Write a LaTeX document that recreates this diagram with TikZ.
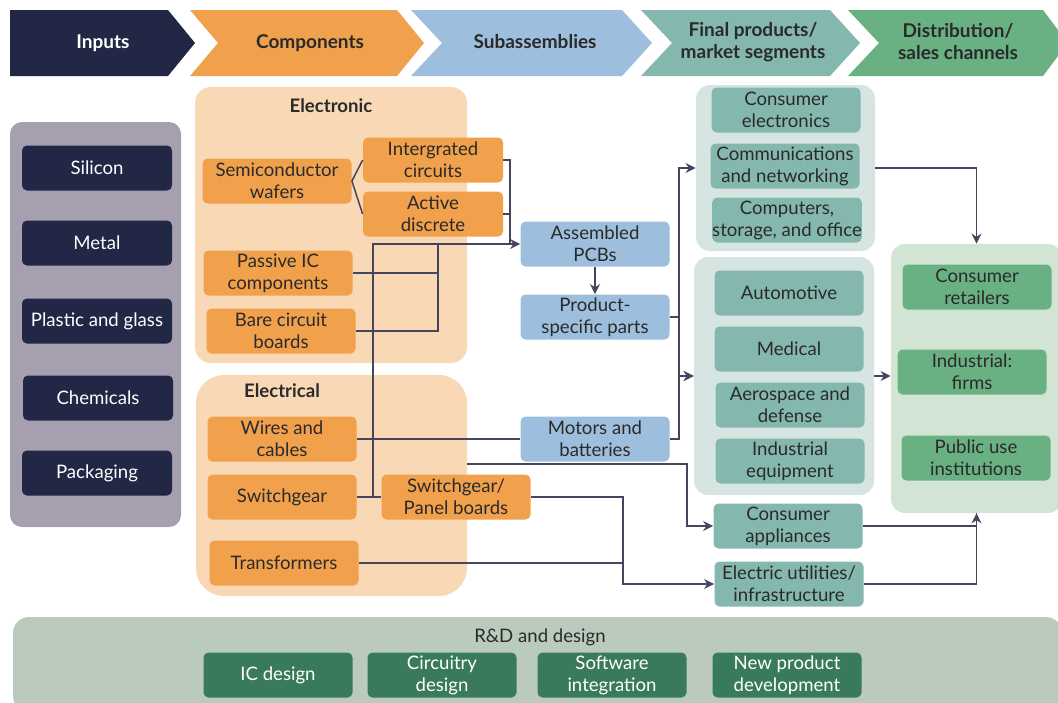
\documentclass[tikz,border=0pt]{standalone}
\usepackage{fontspec}
\setmainfont{Lato}
\usepackage{xcolor}
\usetikzlibrary{arrows.meta, calc}

\definecolor{cNavy}{HTML}{232746}
\definecolor{cOrange}{HTML}{F1A14C}
\definecolor{cPeach}{HTML}{F9D8B6}
\definecolor{cSky}{HTML}{9DBFDD}
\definecolor{cTeal}{HTML}{84B8AE}
\definecolor{cTealBg}{HTML}{D7E5E2}
\definecolor{cGreen}{HTML}{69B183}
\definecolor{cGreenBg}{HTML}{D2E5D5}
\definecolor{cInBg}{HTML}{A59FAF}
\definecolor{cRdBg}{HTML}{BACABD}
\definecolor{cRd}{HTML}{397A5A}
\definecolor{cInk}{HTML}{2A2A2A}
\definecolor{cWire}{HTML}{45465E}

\begin{document}
\begin{tikzpicture}[
    x=0.5pt, y=-0.5pt,
    stagebox/.style={rectangle, rounded corners=2.5pt, minimum width=74.5pt, minimum height=22.5pt, inner sep=0pt, align=center, font=\fontsize{9.3}{11}\selectfont, text=cInk},
    rawbox/.style={stagebox, fill=cNavy, text=white, minimum width=75pt},
    compbox/.style={stagebox, fill=cOrange},
    subbox/.style={stagebox, fill=cSky},
    prodbox/.style={stagebox, fill=cTeal},
    salebox/.style={stagebox, fill=cGreen},
    rdbox/.style={stagebox, fill=cRd, text=white},
    panel/.style={rectangle, inner sep=0pt},
    hdrtxt/.style={align=center, font=\bfseries\fontsize{9.5}{11}\selectfont, text=cInk},
    paneltitle/.style={font=\bfseries\fontsize{9.3}{11}\selectfont, text=cInk},
    conn/.style={draw=cWire, line width=0.75pt},
    arr/.style={conn, -{Stealth[length=5pt, width=5pt]}}
]
\useasboundingbox (0,0) rectangle (1058,702);

% stage headers
\fill[cNavy] (10,10) -- (168,10) -- (195,43) -- (168,76) -- (10,76) -- cycle;
\fill[cOrange] (190,10) -- (397,10) -- (424,43) -- (397,76) -- (190,76) -- (218,43) -- cycle;
\fill[cSky] (411,10) -- (622,10) -- (652,43) -- (622,76) -- (411,76) -- (442,43) -- cycle;
\fill[cTeal] (641,10) -- (830,10) -- (860,43) -- (830,76) -- (641,76) -- (672,43) -- cycle;
\fill[cGreen] (848,10) -- (1043,10) -- (1058,30) -- (1058,56) -- (1043,76) -- (848,76) -- (879,43) -- cycle;
\node[hdrtxt, text=white] (hinputs) at (103,43) {Inputs};
\node[hdrtxt] (hcomp) at (310,43) {Components};
\node[hdrtxt] (hsub) at (535,42) {Subassemblies};
\node[hdrtxt] (hfinal) at (753,42) {Final products/\\market segments};
\node[hdrtxt] (hdist) at (958,42) {Distribution/\\sales channels};

% panels
\node[panel, fill=cInBg, rounded corners=6pt, minimum width=85.5pt, minimum height=202.5pt] (inpanel) at (95.5,324.5) {};
\node[panel, fill=cPeach, rounded corners=8pt, minimum width=136pt, minimum height=138pt] (electronic) at (331,225) {};
\node[panel, fill=cPeach, rounded corners=14pt, minimum width=135.5pt, minimum height=110.5pt] (electrical) at (331.5,485.5) {};
\node[panel, fill=cTealBg, rounded corners=7pt, minimum width=89.5pt, minimum height=83pt] (finup) at (785.5,168) {};
\node[panel, fill=cTealBg, rounded corners=7pt, minimum width=90pt, minimum height=119pt] (finlow) at (784,376) {};
\node[panel, fill=cGreenBg, rounded corners=7pt, minimum width=85.5pt, minimum height=134.5pt] (distpanel) at (976.5,378.5) {};
\node[panel, fill=cRdBg, rounded corners=8pt, minimum width=524.5pt, minimum height=47.5pt] (rdpanel) at (537.5,664.5) {};

\node[paneltitle] (telectronic) at (331,106) {Electronic};
\node[paneltitle] (telectrical) at (282,391) {Electrical};
\node[stagebox] (trd) at (540,637) {R\&D and design};

% inputs
\node[rawbox] (silicon) at (97,168) {Silicon};
\node[rawbox] (metal) at (97,243) {Metal};
\node[rawbox] (plastic) at (97,321) {Plastic and glass};
\node[rawbox] (chemicals) at (98,398) {Chemicals};
\node[rawbox] (packaging) at (97,473) {Packaging};

% components
\node[compbox] (wafers) at (277,181) {Semiconductor\\wafers};
\node[compbox, minimum width=70pt] (ic) at (433,160) {Intergrated\\circuits};
\node[compbox, minimum width=70pt] (active) at (433,214) {Active\\discrete};
\node[compbox] (passive) at (278,273) {Passive IC\\components};
\node[compbox] (bare) at (281,331) {Bare circuit\\boards};
\node[compbox] (wires) at (282,439) {Wires and\\cables};
\node[compbox] (switchgear) at (282,497) {Switchgear};
\node[compbox] (panelboards) at (456,497) {Switchgear/\\Panel boards};
\node[compbox] (transformers) at (284,563) {Transformers};

% subassemblies
\node[subbox] (pcbs) at (595,244) {Assembled\\PCBs};
\node[subbox] (parts) at (595,317) {Product-\\specific parts};
\node[subbox] (motors) at (595,439) {Motors and\\batteries};

% final products
\node[prodbox] (conselec) at (786,110) {Consumer\\electronics};
\node[prodbox] (comm) at (785,166) {Communications\\and networking};
\node[prodbox] (computers) at (787,220) {Computers,\\storage, and office};
\node[prodbox] (auto) at (789,293) {Automotive};
\node[prodbox] (medical) at (789,349) {Medical};
\node[prodbox] (aero) at (790,405) {Aerospace and\\defense};
\node[prodbox] (indeq) at (790,461) {Industrial\\equipment};
\node[prodbox] (appliances) at (788,526) {Consumer\\appliances};
\node[prodbox] (utilities) at (789,584) {Electric utilities/\\infrastructure};

% distribution
\node[salebox] (retailers) at (977,287) {Consumer\\retailers};
\node[salebox] (firms) at (972,372) {Industrial:\\firms};
\node[salebox] (public) at (976,458) {Public use\\institutions};

% R&D
\node[rdbox] (icdesign) at (278,675) {IC design};
\node[rdbox] (circuitry) at (442,675) {Circuitry\\design};
\node[rdbox] (software) at (612,675) {Software\\integration};
\node[rdbox] (newprod) at (787,675) {New product\\development};

% connectors
\coordinate (icbus) at (510,244);
\coordinate (boardbus) at (438,244);
\coordinate (elecout) at (467,464);
\coordinate (utilbus) at (623,563);

\draw[conn] (wafers.east) -- (ic.west);
\draw[conn] (wafers.east) -- (active.west);
\draw[conn] (ic.east) -| (icbus);
\draw[conn] (active.east) -| (icbus);
\draw[conn] (passive.east) -| (boardbus);
\draw[conn] (bare.east) -| (boardbus);
\draw[arr] (switchgear.east) -- ++(16,0) |- (pcbs.west);
\draw[conn] (switchgear.east) -- (panelboards.west);
\draw[arr] (pcbs.south) -- (parts.north);
\draw[conn] (wires.east) -- (motors.west);

\draw[arr] (parts.east) -- ++(9,0) |- (finup.west);
\draw[arr] (parts.east) -- ++(9,0) |- (finlow.west);
\draw[arr] (motors.east) -- ++(9,0) |- (finlow.west);

\draw[arr] (elecout) -- ++(220,0) |- (appliances.west);
\draw[conn] (transformers.east) -- (utilbus);
\draw[arr] (panelboards.east) -| (utilbus) |- (utilities.west);

\draw[arr] (finup.east) -| (distpanel.north);
\draw[arr] (finlow.east) -- (finlow.east -| distpanel.west);
\draw[conn] (utilities.east) -| (distpanel.south);
\draw[arr] (appliances.east) -| (distpanel.south);
\end{tikzpicture}
\end{document}
